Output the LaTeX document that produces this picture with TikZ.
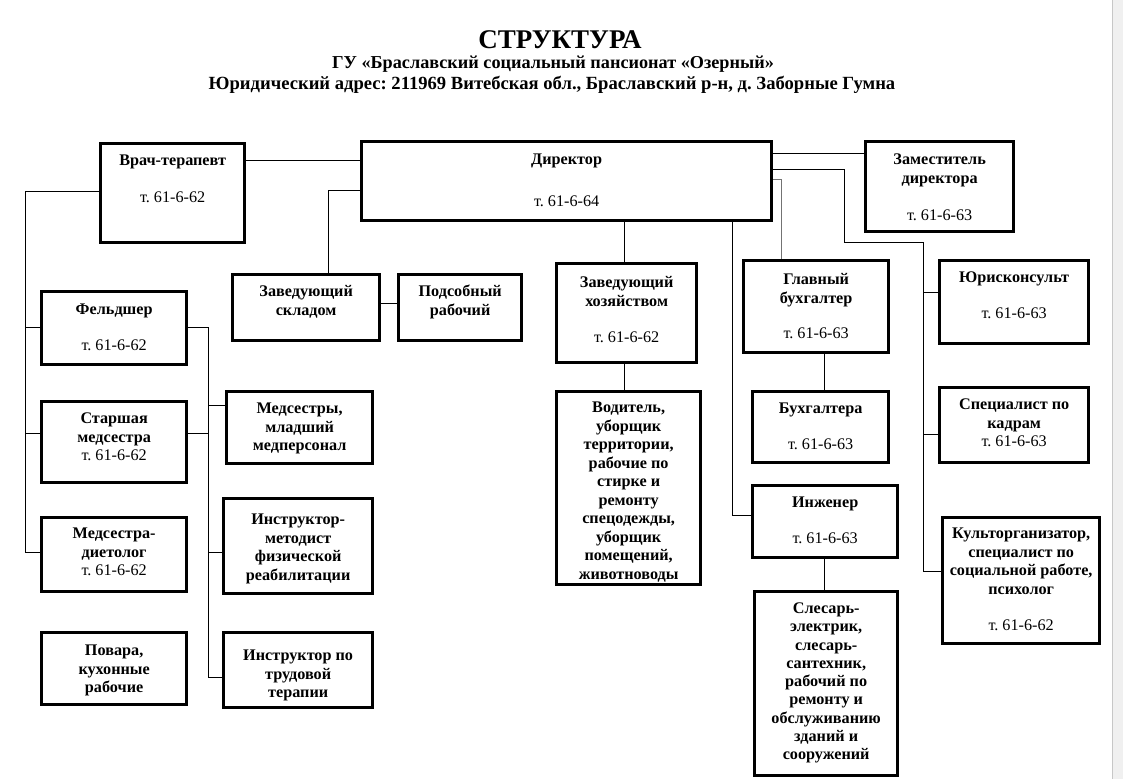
\documentclass[tikz,border=0pt]{standalone}
\usepackage{fontspec}
\setmainfont{Liberation Serif}
\usetikzlibrary{calc}
\frenchspacing
\tikzset{
  orgbox/.style={draw=black, line width=3.3pt, inner sep=0pt, anchor=north west},
  link/.style={draw=black, line width=1pt},
  glink/.style={draw=black!55, line width=1pt},
  ttl/.style={inner sep=0pt, font=\bfseries},
}
% name, x1, y1, x2, y2, first-baseline offset, content
\newcommand{\orgbx}[7]{%
  \node[orgbox] (#1) at (#2,#3) {\parbox[t][\dimexpr #5pt-#3pt\relax][t]{\dimexpr #4pt-#2pt\relax}{%
    \centering\frenchspacing\fontsize{16.2}{18.5}\selectfont\rule{0pt}{#6pt}#7\par}};}
\newcommand{\bb}[1]{\textbf{#1}}
\begin{document}
\begin{tikzpicture}[x=1pt,y=-1pt]
\useasboundingbox (0,0) rectangle (1123,779);
\fill[white] (0,0) rectangle (1123,779);
\fill[black!6] (1112,0) rectangle (1123,779);
\draw[black!22, line width=1pt] (1112,0) -- (1112,779);

% title
\node[ttl, font=\bfseries\fontsize{27}{29}\selectfont] (t1) at (560,40) {СТРУКТУРА};
\node[ttl, font=\bfseries\fontsize{18.2}{20}\selectfont] (t2) at (553,64) {ГУ «Браславский социальный пансионат «Озерный»};
\node[ttl, font=\bfseries\fontsize{18.6}{20}\selectfont] (t3) at (552,85) {Юридический адрес: 211969 Витебская обл., Браславский р-н, д. Заборные Гумна};

% boxes
\orgbx{vrach}{99}{142}{243}{241}{22}{\bb{Врач-терапевт}\\[18.5pt]т. 61-6-62}
\orgbx{dir}{360}{140}{770}{219}{23}{\bb{Директор}\\[23.5pt]т. 61-6-64}
\orgbx{zam}{864}{140}{1012}{230}{23}{\bb{Заместитель}\\\bb{директора}\\[18.5pt]т. 61-6-63}
\orgbx{sklad}{231}{273}{378}{339}{22}{\bb{Заведующий}\\\bb{складом}}
\orgbx{podsob}{397}{273}{520}{339}{22}{\bb{Подсобный}\\\bb{рабочий}}
\orgbx{hoz}{555}{262}{695}{361}{24}{\bb{Заведующий}\\\bb{хозяйством}\\[17.5pt]т. 61-6-62}
\orgbx{glbuh}{742}{259}{887}{351}{24}{\bb{Главный}\\\bb{бухгалтер}\\[16.5pt]т. 61-6-63}
\orgbx{yur}{938}{259}{1087}{342}{22}{\bb{Юрисконсульт}\\[17.5pt]т. 61-6-63}
\orgbx{feld}{40}{290}{185}{363}{23}{\bb{Фельдшер}\\[17.5pt]т. 61-6-62}
\orgbx{starsh}{40}{400}{185}{481}{22}{\bb{Старшая}\\\bb{медсестра}\\т. 61-6-62}
\orgbx{medsest}{225}{390}{371}{462}{22}{\bb{Медсестры,}\\\bb{младший}\\\bb{медперсонал}}
\orgbx{diet}{40}{516}{185}{590}{21}{\bb{Медсестра-}\\\bb{диетолог}\\т. 61-6-62}
\orgbx{instra}{222}{497}{371}{592}{26}{\bb{Инструктор-}\\\bb{методист}\\\bb{физической}\\\bb{реабилитации}}
\orgbx{povar}{40}{631}{185}{703}{23}{\bb{Повара,}\\\bb{кухонные}\\\bb{рабочие}}
\orgbx{instrb}{222}{631}{371}{706}{28}{\bb{Инструктор по}\\\bb{трудовой}\\\bb{терапии}}
\orgbx{vodit}{555}{390}{699}{583}{21}{\bb{Водитель,}\\\bb{уборщик}\\\bb{территории,}\\\bb{рабочие по}\\\bb{стирке и}\\\bb{ремонту}\\\bb{спецодежды,}\\\bb{уборщик}\\\bb{помещений,}\\\bb{животноводы}}
\orgbx{buh}{751}{390}{887}{461}{22}{\bb{Бухгалтера}\\[17.5pt]т. 61-6-63}
\orgbx{kadr}{938}{386}{1087}{461}{22}{\bb{Специалист по}\\\bb{кадрам}\\т. 61-6-63}
\orgbx{inzh}{751}{484}{896}{556}{22}{\bb{Инженер}\\[17.5pt]т. 61-6-63}
\orgbx{slesar}{753}{590}{896}{774}{22}{\fontsize{16.2}{18.25}\selectfont\bb{Слесарь-}\\\bb{электрик,}\\\bb{слесарь-}\\\bb{сантехник,}\\\bb{рабочий по}\\\bb{ремонту и}\\\bb{обслуживанию}\\\bb{зданий и}\\\bb{сооружений}}
\orgbx{kult}{941}{516}{1098}{642}{21}{\bb{Культорганизатор,}\\\bb{специалист по}\\\bb{социальной работе,}\\\bb{психолог}\\[17.5pt]т. 61-6-62}

% connectors
\draw[link] (dir.west |- 0,160) -- (vrach.east |- 0,160);
\draw[link] (dir.west |- 0,190) -| (sklad.north -| 328,0);
\draw[link] (sklad.east |- 0,303) -- (podsob.west |- 0,303);
\draw[link] (vrach.west |- 0,191) -| (25,552) -- (diet.west |- 0,552);
\draw[link] (25,327) -- (feld.west |- 0,327);
\draw[link] (25,433) -- (starsh.west |- 0,433);
\draw[link] (feld.east |- 0,327) -| (208,677) -- (instrb.west |- 0,677);
\draw[link] (208,405) -- (medsest.west |- 0,405);
\draw[link] (starsh.east |- 0,433) -- (208,433);
\draw[link] (208,552) -- (instra.west |- 0,552);
\draw[link] (dir.south -| 624,0) -- (hoz.north -| 624,0);
\draw[link] (hoz.south -| 624,0) -- (vodit.north -| 624,0);
\draw[link] (dir.south -| 732,0) |- (inzh.west |- 0,515);
\draw[glink] (dir.east |- 0,179) -| (glbuh.north -| 781,0);
\draw[link] (glbuh.south -| 824,0) -- (buh.north -| 824,0);
\draw[link] (dir.east |- 0,153) -- (zam.west |- 0,153);
\draw[link] (dir.east |- 0,169) -| (844,242) -| (923,571) -- (kult.west |- 0,571);
\draw[link] (923,292) -- (yur.west |- 0,292);
\draw[link] (923,434) -- (kadr.west |- 0,434);
\draw[link] (inzh.south -| 824,0) -- (slesar.north -| 824,0);
\end{tikzpicture}
\end{document}
